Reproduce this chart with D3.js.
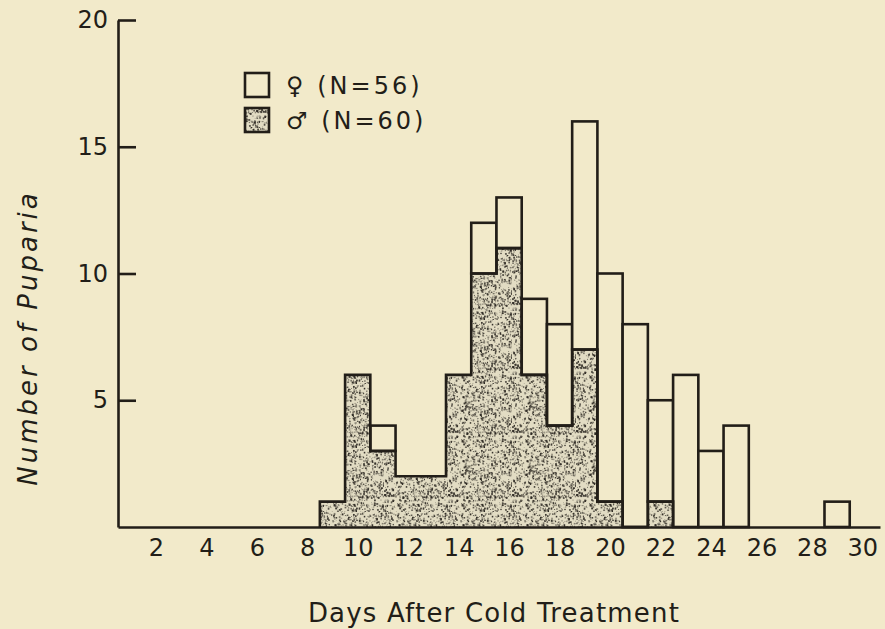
<!DOCTYPE html>
<html>
<head>
<meta charset="utf-8">
<script src="https://cdn.jsdelivr.net/npm/d3@7"></script>
<style>
  body { margin: 0; background: #f2eaca; }
  text { font-family: "DejaVu Sans", sans-serif; fill: #221e18; }
</style>
</head>
<body>
<div id="chart"></div>
<script>
// days after cold treatment, one bar per day
const days = [9, 10, 11, 12, 13, 14, 15, 16, 17, 18, 19, 20, 21, 22, 23, 24, 25, 26, 27, 28, 29];
// males (stippled) at the bottom, females (open) stacked on top
const males   = [1, 6, 3, 2, 2, 6, 10, 11, 6, 4, 7, 1, 0, 1, 0, 0, 0, 0, 0, 0, 0];
const females = [0, 0, 1, 0, 0, 0, 2, 2, 3, 4, 9, 9, 8, 4, 6, 3, 4, 0, 0, 0, 1];
const xTicks = [2, 4, 6, 8, 10, 12, 14, 16, 18, 20, 22, 24, 26, 28, 30];
const yTicks = [5, 10, 15, 20];
const legendLabels = ["♀ (N=56)", "♂ (N=60)"];

const W = 885, H = 629;
const ink = "#221e18", bg = "#f2eaca";

const x = d3.scaleLinear().domain([0.5, 30.7]).range([118, 880]);
const y = d3.scaleLinear().domain([0, 20]).range([527, 20]);

const svg = d3.select("#chart").append("svg")
    .attr("width", W)
    .attr("height", H);

svg.append("rect").attr("width", W).attr("height", H).attr("fill", bg);

// stipple texture for the male bars (seeded, so it is the same every time)
const rnd = d3.randomLcg(11);
const T = 64;
const pat = svg.append("defs").append("pattern")
    .attr("id", "stip")
    .attr("patternUnits", "userSpaceOnUse")
    .attr("width", T).attr("height", T);
pat.append("rect").attr("width", T).attr("height", T).attr("fill", "#e2dcc3");
for (let i = 0; i < 900; i++) {
    const s = 0.6 + rnd() * 1.3;
    pat.append("rect")
        .attr("x", rnd() * T).attr("y", rnd() * T)
        .attr("width", s).attr("height", s * (0.6 + rnd() * 0.8))
        .attr("fill", "#2a2620")
        .attr("opacity", 0.35 + rnd() * 0.6);
}

const bars = days.map((d, i) => ({day: d, m: males[i], f: females[i]}));

// stippled male area
svg.append("g").selectAll("rect")
    .data(bars.filter(b => b.m > 0))
    .join("rect")
    .attr("x", b => x(b.day - 0.5))
    .attr("width", b => x(b.day + 0.5) - x(b.day - 0.5))
    .attr("y", b => y(b.m))
    .attr("height", b => y(0) - y(b.m))
    .attr("fill", "url(#stip)");

// open female boxes on top
svg.append("g").selectAll("rect")
    .data(bars.filter(b => b.f > 0))
    .join("rect")
    .attr("x", b => x(b.day - 0.5))
    .attr("width", b => x(b.day + 0.5) - x(b.day - 0.5))
    .attr("y", b => y(b.m + b.f))
    .attr("height", b => y(b.m) - y(b.m + b.f))
    .attr("fill", bg)
    .attr("stroke", ink)
    .attr("stroke-width", 2.6);

// step outline round the male histogram
const maleBars = bars.filter(b => b.day <= 22);
const pts = [[maleBars[0].day - 0.5, 0]];
maleBars.forEach(b => {
    pts.push([b.day - 0.5, b.m]);
    pts.push([b.day + 0.5, b.m]);
});
pts.push([maleBars[maleBars.length - 1].day + 0.5, 0]);
svg.append("path")
    .attr("d", d3.line().x(p => x(p[0])).y(p => y(p[1]))(pts))
    .attr("fill", "none")
    .attr("stroke", ink)
    .attr("stroke-width", 2.6);

// axes
const gx = svg.append("g")
    .attr("transform", "translate(0," + y(0) + ")")
    .call(d3.axisBottom(x).tickValues(xTicks).tickSize(0).tickSizeOuter(0).tickPadding(12));
const gy = svg.append("g")
    .attr("transform", "translate(" + x(0.5) + ",0)")
    .call(d3.axisLeft(y).tickValues(yTicks).tickSize(-18).tickSizeOuter(0).tickPadding(10));

[gx, gy].forEach(g => {
    g.select(".domain").attr("stroke", ink).attr("stroke-width", 2.6);
    g.selectAll("line").attr("stroke", ink).attr("stroke-width", 2.6);
    g.selectAll("text")
        .attr("fill", ink)
        .style("font-size", "24px")
        .style("font-family", "DejaVu Sans, sans-serif");
});

// legend
const leg = svg.append("g");
legendLabels.forEach((t, i) => {
    leg.append("rect")
        .attr("x", 245).attr("y", 73 + i * 35)
        .attr("width", 24).attr("height", 24)
        .attr("fill", i === 0 ? bg : "url(#stip)")
        .attr("stroke", ink).attr("stroke-width", 2.6);
    leg.append("text")
        .attr("x", 286).attr("y", 85 + i * 35)
        .attr("dy", "0.36em")
        .style("font-size", "24px")
        .style("letter-spacing", "3px")
        .text(t);
});

// axis titles
svg.append("text")
    .attr("x", 494).attr("y", 622)
    .attr("text-anchor", "middle")
    .style("font-size", "26px")
    .style("letter-spacing", "1.2px")
    .text("Days After Cold Treatment");

svg.append("text")
    .attr("transform", "translate(28,338) rotate(-90)")
    .attr("text-anchor", "middle")
    .attr("dy", "0.36em")
    .style("font-size", "26px")
    .style("font-style", "italic")
    .style("letter-spacing", "3px")
    .text("Number of Puparia");
</script>
</body>
</html>
